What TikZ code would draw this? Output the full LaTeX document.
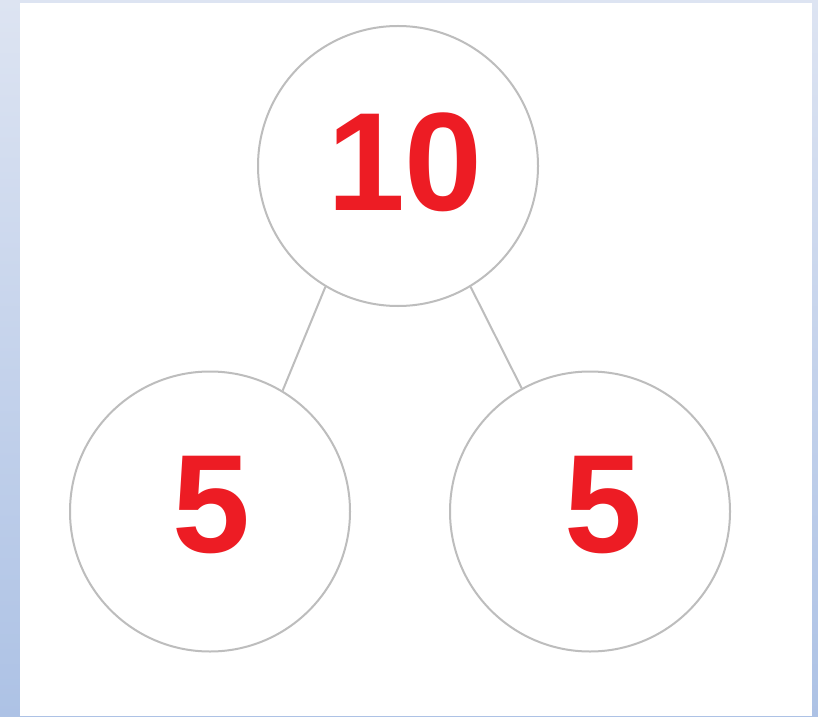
\documentclass[tikz,border=0pt]{standalone}
\usepackage{fontspec}
\setmainfont{Liberation Sans}
\definecolor{numred}{HTML}{ED1C24}
\definecolor{ringgray}{HTML}{BDBDBD}
\definecolor{bgtop}{HTML}{DDE4F2}
\definecolor{bgbot}{HTML}{ADC2E5}
\begin{document}
\begin{tikzpicture}[x=1pt,y=1pt,
  ring/.style={circle,draw=ringgray,line width=2pt,minimum size=280pt,inner sep=0pt},
  num/.style={text=numred,font=\fontsize{140}{140}\selectfont\bfseries,inner sep=0pt},
  link/.style={draw=ringgray,line width=2pt}]
\shade[top color=bgtop,bottom color=bgbot] (0,0) rectangle (818,716);
\useasboundingbox (0,0) rectangle (818,716);
\fill[white] (20,0) rectangle (812,713);
\node[ring] (top) at (398,550) {};
\node[ring] (left) at (210,204.5) {};
\node[ring] (right) at (590,204.5) {};
\node[num] (t10) at (405,553.5) {10};
\node[num] (t5a) at (211,210.5) {5};
\node[num] (t5b) at (603,210.5) {5};
\draw[link] (top.239.5) -- (left.59.5);
\draw[link] (top.301.5) -- (right.119);
\end{tikzpicture}
\end{document}
